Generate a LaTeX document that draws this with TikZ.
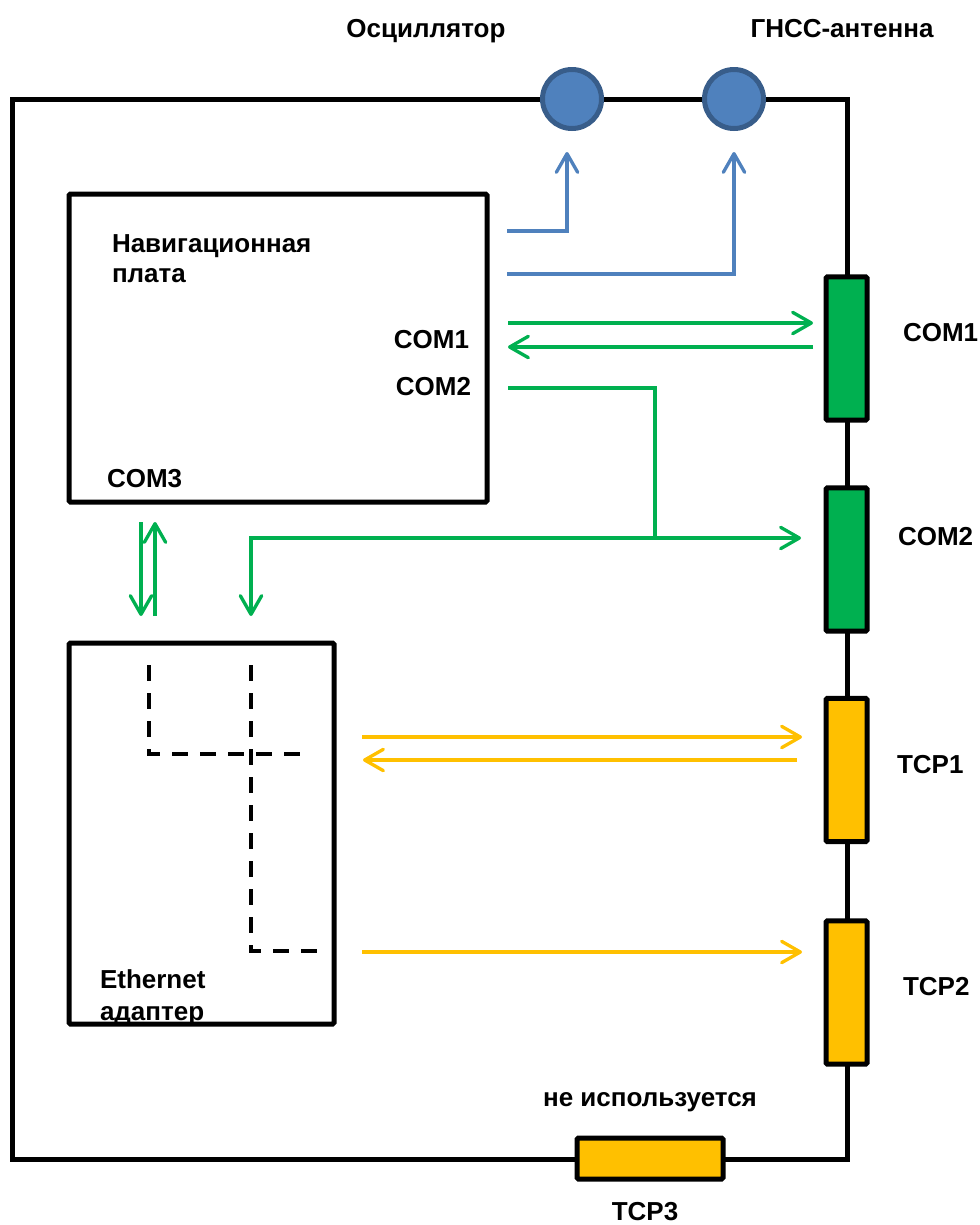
\documentclass[tikz,border=0pt]{standalone}
\usepackage{fontspec}
\setmainfont{Liberation Sans}
\usetikzlibrary{arrows.meta}
\definecolor{cblue}{HTML}{4F81BD}
\definecolor{cbluedark}{HTML}{385D8A}
\definecolor{cgreen}{HTML}{00B050}
\definecolor{cyellow}{HTML}{FFC000}
\begin{document}
\begin{tikzpicture}[x=0.75pt,y=-0.75pt,
  lbl/.style={font=\bfseries\fontsize{19.5}{23}\selectfont, inner sep=0pt, outer sep=0pt},
  frameline/.style={draw=black, line width=3.75pt},
  box/.style={draw=black, line width=3.75pt, rounded corners=1pt, fill=white, inner sep=0pt},
  circ/.style={circle, draw=cbluedark, fill=cblue, line width=3.75pt, minimum size=44.25pt, inner sep=0pt},
  vport/.style={draw=black, line width=3.75pt, rounded corners=1pt, minimum width=30.75pt, minimum height=107.5pt, inner sep=0pt},
  hport/.style={draw=black, line width=3.75pt, rounded corners=1pt, minimum width=109.5pt, minimum height=30.75pt, inner sep=0pt},
  tip/.style={-{Straight Barb[length=14pt,width=16pt,round]}},
  bluearr/.style={tip, draw=cblue, line width=2.5pt},
  greenarr/.style={tip, draw=cgreen, line width=2.5pt},
  greenline/.style={draw=cgreen, line width=2.5pt},
  yellowarr/.style={tip, draw=cyellow, line width=2.5pt},
  dashline/.style={draw=black, line width=3pt, dash pattern=on 12pt off 9pt}
]
\useasboundingbox (0,0) rectangle (979,1225);

% outer housing
\draw[frameline] (12,99) rectangle (847,1159);

% main blocks
\node[box, minimum width=313.5pt, minimum height=231pt] (nav) at (278,348) {};
\node[box, minimum width=198.75pt, minimum height=285.75pt] (eth) at (201.5,833.5) {};

% connectors on housing
\node[circ] (osc) at (572,99) {};
\node[circ] (gnss) at (734,99) {};
\node[vport, fill=cgreen] (com1) at (846.5,348.5) {};
\node[vport, fill=cgreen] (com2) at (846.5,559.5) {};
\node[vport, fill=cyellow] (tcp1) at (846.5,770) {};
\node[vport, fill=cyellow] (tcp2) at (846.5,992.5) {};
\node[hport, fill=cyellow] (tcp3) at (650,1158.5) {};

% labels
\node[lbl, anchor=base] (losc) at (426,37) {Осциллятор};
\node[lbl, anchor=base] (lgnss) at (842,37) {ГНСС-антенна};
\node[lbl, anchor=base west] (lnav1) at (112,252) {Навигационная};
\node[lbl, anchor=base west] (lnav2) at (112,282) {плата};
\node[lbl, anchor=base east] (lncom1) at (469,348) {COM1};
\node[lbl, anchor=base east] (lncom2) at (471,395) {COM2};
\node[lbl, anchor=base west] (lncom3) at (107,487) {COM3};
\node[lbl, anchor=base west] (leth1) at (100,988) {Ethernet};
\node[lbl, anchor=base west] (leth2) at (100,1020) {адаптер};
\node[lbl, anchor=base west] (lcom1) at (903,341) {COM1};
\node[lbl, anchor=base west] (lcom2) at (898,545) {COM2};
\node[lbl, anchor=base west] (ltcp1) at (897,773) {TCP1};
\node[lbl, anchor=base west] (ltcp2) at (903,995) {TCP2};
\node[lbl, anchor=base] (lunused) at (650,1106) {не используется};
\node[lbl, anchor=base] (ltcp3) at (645,1220) {TCP3};

% free ends of connectors
\coordinate (b1s) at (507,231);
\coordinate (b1e) at (567,152);
\coordinate (b2s) at (507,274);
\coordinate (b2e) at (734,152);
\coordinate (g1s) at (508,323);
\coordinate (g1e) at (813,323);
\coordinate (g2s) at (813,347);
\coordinate (g2e) at (508,347);
\coordinate (g3s) at (508,388);
\coordinate (g3j) at (655,538);
\coordinate (g3e) at (801,538);
\coordinate (g3d) at (251,616);
\coordinate (g4s) at (141,522);
\coordinate (g4e) at (141,616);
\coordinate (g5s) at (155,616);
\coordinate (g5e) at (155,522);
\coordinate (y1s) at (362,737);
\coordinate (y1e) at (802,737);
\coordinate (y2s) at (797,760);
\coordinate (y2e) at (363,760);
\coordinate (y3s) at (362,952);
\coordinate (y3e) at (802,952);

% blue connectors
\draw[bluearr] (b1s) -| (b1e);
\draw[bluearr] (b2s) -| (b2e);

% green connectors
\draw[greenarr] (g1s) -- (g1e);
\draw[greenarr] (g2s) -- (g2e);
\draw[greenline] (g3s) -| (g3j);
\draw[greenarr] (g3j) -- (g3e);
\draw[greenarr] (g3j) -| (g3d);
\draw[greenarr] (g4s) -- (g4e);
\draw[greenarr] (g5s) -- (g5e);

% yellow connectors
\draw[yellowarr] (y1s) -- (y1e);
\draw[yellowarr] (y2s) -- (y2e);
\draw[yellowarr] (y3s) -- (y3e);

% internal dashed wiring of the adapter
\draw[dashline] (149,665) -- (149,754) -- (308,754);
\draw[dashline] (251,665) -- (251,951) -- (325,951);
\end{tikzpicture}
\end{document}
